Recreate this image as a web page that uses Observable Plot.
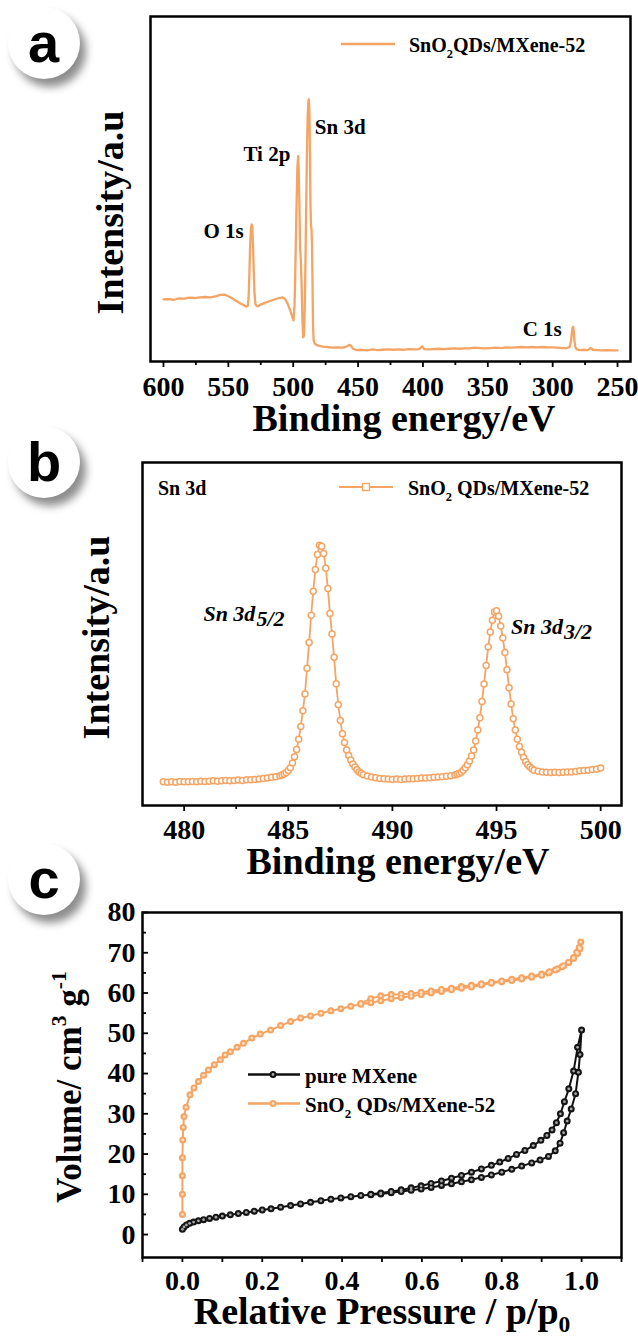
<!DOCTYPE html>
<html><head><meta charset="utf-8">
<script src="https://cdn.jsdelivr.net/npm/d3@7"></script>
<script src="https://cdn.jsdelivr.net/npm/@observablehq/plot@0.6"></script>
<style>
body{margin:0;background:#fff;}
#page{position:relative;width:638px;height:1340px;overflow:hidden;background:#fff;}
#page svg{position:absolute;left:0;max-width:none;background:transparent;}
.badge{position:absolute;width:72px;height:72px;border-radius:50%;background:#fff;box-shadow:6px 8px 9px rgba(0,0,0,0.45);font-family:"Liberation Sans",Arial,sans-serif;font-weight:bold;font-size:56px;display:flex;align-items:center;justify-content:center;line-height:1;color:#000;z-index:2;}
</style></head>
<body><div id="page"></div>
<script>
// ---------- Panel a: XPS survey ----------
const surveyEnergy = [600,596,592,588,584,580,576,572,568,564,560,556,553,550,547,544,541,538,536,535,534.4,533.8,533.2,532.6,532.0,531.5,531.0,530.4,529.8,529.1,528.4,527,525,522,519,515,511,508,506,504,502,500.5,499.8,499.0,498.5,498.0,497.4,496.8,496.2,495.7,495.2,494.7,494.1,493.5,492.9,492.3,491.8,491.3,490.8,490.3,489.8,489.3,488.8,488.3,487.9,487.5,487.1,486.7,486.3,485.9,485.5,485.1,484.7,484.2,483.5,482,480,477,474,470,466,462,459,457,455.5,454,451,447,443,439,435,431,427,423,419,415,411,407,403,400.5,399,396,392,388,384,380,376,372,368,364,360,356,352,348,344,340,336,332,328,324,320,316,312,308,304,300,296,292,289,287,286,285.3,284.7,284.2,283.7,283.2,282.5,281.5,279,276,273,270.5,269,266,262,258,254,250];
const surveyIntensity = [18.0,18.1,17.9,18.3,18.2,18.5,18.4,18.6,18.7,18.6,18.9,19.3,19.4,18.9,18.3,17.6,16.9,16.3,15.9,16.2,18.5,25.0,33.5,38.5,39.7,38.8,34.0,26.0,19.5,16.6,16.2,16.0,16.5,17.0,17.4,17.9,18.4,18.6,18.0,16.5,14.5,12.6,11.9,16.0,23.5,34.0,45.7,56.0,59.5,55.0,45.0,33.0,29.3,22.0,12.0,7.0,7.5,12.0,22.0,36.0,50.0,63.0,71.5,75.5,76.0,72.0,60.0,46.0,39.5,38.3,34.0,22.0,10.0,6.0,5.2,4.8,4.5,4.3,4.2,4.0,4.1,4.0,4.3,4.8,4.6,3.7,3.3,3.4,3.2,3.5,3.3,3.4,3.5,3.4,3.5,3.4,3.6,3.5,3.6,4.4,3.6,3.5,3.6,3.7,3.6,3.7,3.8,3.7,3.8,3.8,4.0,3.9,3.8,3.9,4.0,3.9,4.1,4.0,4.1,4.2,4.1,4.2,4.1,4.2,4.1,4.1,4.0,3.9,3.9,4.2,5.5,8.0,9.8,10.1,8.6,6.0,4.2,3.5,3.3,3.4,3.3,3.9,3.4,3.3,3.2,3.3,3.2,3.2];
const surveyTicks = [600,550,500,450,400,350,300,250];
const surveyMinorTicks = [575,525,475,425,375,325,275];
const surveyLabels = ["O 1s","Ti 2p","Sn 3d","C 1s"];
const surveyLabelEnergy = [538.2,502.2,483.3,293.0];
const surveyLabelIntensity = [35.7,58.0,66.0,7.5];
const surveyLabelAnchor = ["end","end","start","end"];

// ---------- Panel b: Sn 3d high resolution ----------
const snEnergy = [479.0,479.2,479.4,479.6,479.8,480.0,480.2,480.4,480.6,480.8,481.0,481.2,481.4,481.6,481.8,482.0,482.2,482.4,482.6,482.8,483.0,483.2,483.4,483.6,483.8,484.0,484.2,484.4,484.6,484.7,484.8,484.9,485.0,485.1,485.2,485.3,485.4,485.5,485.6,485.7,485.8,485.9,486.0,486.1,486.2,486.3,486.4,486.5,486.6,486.7,486.8,486.9,487.0,487.1,487.2,487.3,487.4,487.5,487.6,487.7,487.8,487.9,488.0,488.1,488.2,488.3,488.4,488.5,488.6,488.8,489.0,489.2,489.4,489.6,489.8,490.0,490.2,490.4,490.6,490.8,491.0,491.2,491.4,491.6,491.8,492.0,492.2,492.4,492.6,492.8,493.0,493.1,493.2,493.3,493.4,493.5,493.6,493.7,493.8,493.9,494.0,494.1,494.2,494.3,494.4,494.5,494.6,494.7,494.8,494.9,495.0,495.1,495.2,495.3,495.4,495.5,495.6,495.7,495.8,495.9,496.0,496.1,496.2,496.3,496.4,496.5,496.6,496.7,496.8,497.0,497.2,497.4,497.6,497.8,498.0,498.2,498.4,498.6,498.8,499.0,499.2,499.4,499.6,499.8,500.0];
const snIntensity = [6.9,6.8,6.9,6.8,7.0,6.9,6.9,7.0,6.9,7.1,7.0,7.1,7.2,7.1,7.2,7.3,7.2,7.3,7.4,7.3,7.5,7.5,7.6,7.7,7.9,8.0,8.2,8.4,8.7,8.9,9.2,9.6,10.2,11.0,12.4,14.2,16.3,19.3,23.0,27.6,32.5,40.0,47.5,55.5,62.5,68.8,73.2,75.9,75.6,73.5,69.2,63.3,56.0,50.0,43.2,35.5,29.4,24.8,20.9,18.4,16.2,14.6,13.3,12.1,11.2,10.4,9.8,9.4,9.0,8.6,8.3,8.1,7.9,7.8,7.7,7.6,7.7,7.6,7.7,7.8,7.8,7.9,8.0,8.0,8.1,8.2,8.3,8.4,8.5,8.7,8.9,9.1,9.3,9.7,10.3,11.0,11.9,13.0,14.4,16.2,18.8,22.0,25.6,30.3,35.4,40.8,46.2,50.6,54.0,56.4,56.8,55.2,52.3,48.8,44.6,39.6,34.3,29.6,25.3,22.0,19.3,17.2,15.5,14.0,12.8,11.9,11.2,10.7,10.3,10.0,9.8,9.7,9.6,9.7,9.6,9.7,9.8,9.8,9.9,10.1,10.2,10.3,10.5,10.6,10.9];
const snTicks = [480,485,490,495,500];
const snMinorTicks = [482.5,487.5,492.5,497.5];
const snPeakMain = ["Sn 3d","Sn 3d"];
const snPeakSub = ["5/2","3/2"];
const snPeakEnergy = [483.42,498.19];
const snPeakIntensity = [53.9,50.0];
const snPeakSubIntensity = [52.2,48.4];

// ---------- Panel c: N2 isotherms ----------
const mxeneAdsP = [0.000,0.004,0.010,0.018,0.028,0.040,0.053,0.068,0.084,0.100,0.120,0.140,0.160,0.180,0.200,0.222,0.246,0.271,0.296,0.321,0.347,0.372,0.397,0.422,0.447,0.472,0.497,0.523,0.548,0.573,0.598,0.623,0.649,0.674,0.699,0.724,0.749,0.774,0.800,0.825,0.850,0.875,0.896,0.917,0.934,0.946,0.955,0.964,0.974,0.985,0.992,0.996,1.000];
const mxeneAdsV = [1.3,1.9,2.4,2.8,3.1,3.4,3.7,4.0,4.3,4.6,4.9,5.2,5.5,5.8,6.1,6.4,6.8,7.2,7.6,8.0,8.4,8.8,9.1,9.4,9.7,9.9,10.1,10.4,10.7,11.0,11.3,11.7,12.2,12.6,13.1,13.6,14.2,14.8,15.5,16.2,17.0,17.8,18.5,19.4,20.8,22.7,25.3,28.2,31.2,35.0,40.3,44.7,50.8];
const mxeneDesP = [0.990,0.980,0.968,0.957,0.947,0.937,0.926,0.913,0.898,0.879,0.858,0.837,0.816,0.795,0.774,0.749,0.724,0.699,0.674,0.649,0.623,0.598,0.573,0.548,0.523,0.497,0.472];
const mxeneDesV = [46.5,40.6,36.2,33.0,30.0,27.8,26.0,24.6,23.4,22.1,20.9,19.9,18.9,18.0,17.2,16.3,15.5,14.7,14.0,13.3,12.7,12.1,11.6,11.1,10.7,10.3,10.0];
const snqdAdsP = [0.000,0.000,0.000,0.000,0.001,0.002,0.004,0.009,0.019,0.029,0.040,0.053,0.065,0.080,0.095,0.107,0.120,0.137,0.153,0.174,0.195,0.221,0.246,0.271,0.296,0.321,0.347,0.372,0.397,0.422,0.447,0.472,0.497,0.523,0.548,0.573,0.598,0.623,0.649,0.674,0.699,0.724,0.749,0.774,0.800,0.825,0.850,0.875,0.900,0.917,0.934,0.951,0.967,0.980,0.988,0.994,0.998];
const snqdAdsV = [5.0,10.0,14.6,19.1,23.5,26.6,29.3,31.6,34.7,36.4,38.0,39.6,40.9,42.2,43.4,44.6,45.4,46.5,47.5,48.8,49.8,50.8,51.9,52.9,53.8,54.3,55.0,55.6,56.1,56.7,57.2,57.6,58.1,58.6,58.9,59.2,59.6,60.0,60.4,60.8,61.2,61.5,62.0,62.4,62.8,63.1,63.5,63.9,64.4,65.0,65.7,66.5,67.6,68.8,70.1,71.3,72.7];
const snqdDesP = [0.996,0.990,0.980,0.968,0.955,0.940,0.920,0.900,0.875,0.850,0.825,0.800,0.774,0.749,0.724,0.699,0.674,0.649,0.623,0.598,0.573,0.548,0.523,0.497,0.472,0.447];
const snqdDesV = [71.0,69.8,68.6,67.6,66.8,66.0,65.3,64.7,64.2,63.8,63.4,63.0,62.7,62.3,61.9,61.6,61.2,60.9,60.5,60.2,59.9,59.7,59.6,59.3,58.6,57.4];
const isoXLabels = [0,0.2,0.4,0.6,0.8,1.0];
const isoXTicks = [-0.1,0,0.1,0.2,0.3,0.4,0.5,0.6,0.7,0.8,0.9,1.0,1.1];
const isoYLabels = [0,10,20,30,40,50,60,70,80];
const isoYMinorTicks = [5,15,25,35,45,55,65,75];

// ---------- helpers ----------
const SERIF = "Liberation Serif";
const ORANGE = "#F5A463";
const page = document.getElementById("page");
const baseStyle = {fontFamily: SERIF, fontWeight: "bold", fontSize: "27px", color: "#000", background: "transparent", overflow: "visible"};
const tickText = {fontSize: 28, fontWeight: "bold", fontFamily: SERIF, fill: "#000"};

function richText(svg, x, y, parts, opts = {}) {
  const {size = 20, anchor = "start", rotate = 0, italic = false, subShift = 0.32} = opts;
  const t = d3.select(svg).append("text")
    .attr("transform", `translate(${x},${y})` + (rotate ? ` rotate(${rotate})` : ""))
    .attr("text-anchor", anchor).attr("font-family", SERIF).attr("font-weight", "bold")
    .attr("font-style", italic ? "italic" : "normal").attr("font-size", size).attr("fill", "#000");
  let shift = 0;
  for (const p of parts) {
    const s = t.append("tspan").text(p.t);
    const target = p.sub ? size * subShift : p.sup ? -size * 0.42 : 0;
    if (target !== shift) { s.attr("dy", target - shift); shift = target; }
    if (p.sub || p.sup) s.attr("font-size", size * 0.62);
  }
  return t;
}
function place(svg, top) { svg.style.top = top + "px"; page.appendChild(svg); }
function badge(letter, left, top) {
  const d = document.createElement("div"); d.className = "badge"; d.textContent = letter;
  d.style.left = left + "px"; d.style.top = top + "px"; page.appendChild(d);
}

// ---------- Panel a ----------
const survey = surveyEnergy.map((e, i) => ({e, v: surveyIntensity[i]}));
const surveyNotes = surveyLabels.map((t, i) => ({t, e: surveyLabelEnergy[i], v: surveyLabelIntensity[i], a: surveyLabelAnchor[i]}));
const chartA = Plot.plot({
  width: 638, height: 440, marginLeft: 150, marginRight: 8, marginTop: 16, marginBottom: 79,
  style: baseStyle,
  x: {domain: [610, 240], label: null},
  y: {domain: [0, 100], axis: null},
  marks: [
    Plot.line(survey, {x: "e", y: "v", stroke: ORANGE, strokeWidth: 2.3}),
    Plot.text(surveyNotes.filter(d => d.a === "end"), {x: "e", y: "v", text: "t", textAnchor: "end", lineAnchor: "bottom", fontSize: 21, fontWeight: "bold", fill: "#000"}),
    Plot.text(surveyNotes.filter(d => d.a === "start"), {x: "e", y: "v", text: "t", textAnchor: "start", lineAnchor: "bottom", fontSize: 21, fontWeight: "bold", fill: "#000"}),
    Plot.axisX({ticks: surveyTicks, tickSize: 6, strokeWidth: 1.8, tickFormat: () => "", label: null}),
    Plot.axisX({ticks: surveyMinorTicks, tickSize: 4, strokeWidth: 1.8, tickFormat: () => "", label: null}),
    Plot.text(surveyTicks, {x: d => d, text: d => String(d), frameAnchor: "bottom", lineAnchor: "top", dy: 15, ...tickText}),
    Plot.frame({stroke: "#000", strokeWidth: 2.5})
  ]
});
place(chartA, 0);
{
  const s = d3.select(chartA);
  s.append("line").attr("x1", 341).attr("x2", 395).attr("y1", 44).attr("y2", 44).attr("stroke", ORANGE).attr("stroke-width", 2.5);
  richText(chartA, 409, 51.5, [{t: "SnO"}, {t: "2", sub: true}, {t: "QDs/MXene-52"}], {size: 20});
  richText(chartA, 404, 431, [{t: "Binding energy/eV"}], {size: 38, anchor: "middle"});
  richText(chartA, 123, 212.5, [{t: "Intensity/a.u"}], {size: 38, anchor: "middle", rotate: -90});
}

// ---------- Panel b ----------
const sn = snEnergy.map((e, i) => ({e, v: snIntensity[i]}));
const snNotes = snPeakMain.map((t, i) => ({t, s: snPeakSub[i], e: snPeakEnergy[i], v: snPeakIntensity[i], vs: snPeakSubIntensity[i]}));
const chartB = Plot.plot({
  width: 638, height: 440, marginLeft: 142, marginRight: 17, marginTop: 22, marginBottom: 75,
  style: baseStyle,
  x: {domain: [478, 501], label: null},
  y: {domain: [0, 100], axis: null},
  marks: [
    Plot.line(sn, {x: "e", y: "v", stroke: ORANGE, strokeWidth: 1.8}),
    Plot.dot(sn, {x: "e", y: "v", r: 3, stroke: ORANGE, strokeWidth: 1.5, fill: "#fff"}),
    Plot.text(snNotes, {x: "e", y: "v", text: "t", textAnchor: "end", lineAnchor: "bottom", fontSize: 22, fontWeight: "bold", fontStyle: "italic", fill: "#000"}),
    Plot.text(snNotes, {x: "e", y: "vs", text: "s", textAnchor: "start", lineAnchor: "bottom", dx: 1, fontSize: 22, fontWeight: "bold", fontStyle: "italic", fill: "#000"}),
    Plot.axisX({ticks: snTicks, tickSize: 6, strokeWidth: 1.8, tickFormat: () => "", label: null}),
    Plot.axisX({ticks: snMinorTicks, tickSize: 4, strokeWidth: 1.8, tickFormat: () => "", label: null}),
    Plot.text(snTicks, {x: d => d, text: d => String(d), frameAnchor: "bottom", lineAnchor: "top", dy: 14, ...tickText}),
    Plot.frame({stroke: "#000", strokeWidth: 2.5})
  ]
});
place(chartB, 440);
{
  const s = d3.select(chartB);
  richText(chartB, 158, 55, [{t: "Sn 3d"}], {size: 20});
  s.append("line").attr("x1", 339).attr("x2", 393).attr("y1", 47).attr("y2", 47).attr("stroke", ORANGE).attr("stroke-width", 2.2);
  s.append("rect").attr("x", 362.5).attr("y", 43.5).attr("width", 7).attr("height", 7).attr("fill", "#fff").attr("stroke", ORANGE).attr("stroke-width", 1.4);
  richText(chartB, 408, 55, [{t: "SnO"}, {t: "2", sub: true}, {t: " QDs/MXene-52"}], {size: 20});
  richText(chartB, 398, 434, [{t: "Binding energy/eV"}], {size: 38, anchor: "middle"});
  richText(chartB, 109, 197.5, [{t: "Intensity/a.u"}], {size: 38, anchor: "middle", rotate: -90});
}

// ---------- Panel c ----------
const mxene = [...mxeneAdsP.map((p, i) => ({p, v: mxeneAdsV[i]})), ...mxeneDesP.map((p, i) => ({p, v: mxeneDesV[i]}))];
const snqd = [...snqdAdsP.map((p, i) => ({p, v: snqdAdsV[i]})), ...snqdDesP.map((p, i) => ({p, v: snqdDesV[i]}))];
const chartC = Plot.plot({
  width: 638, height: 460, marginLeft: 142, marginRight: 17, marginTop: 32, marginBottom: 83,
  style: baseStyle,
  x: {domain: [-0.1, 1.1], label: null},
  y: {domain: [-5.7, 80], label: null},
  marks: [
    Plot.line(mxene, {x: "p", y: "v", stroke: "#111", strokeWidth: 2}),
    Plot.dot(mxene, {x: "p", y: "v", r: 3.5, fill: "#151515"}),
    Plot.dot(mxene, {x: "p", y: "v", r: 1.4, fill: "#a8a8a8"}),
    Plot.line(snqd, {x: "p", y: "v", stroke: ORANGE, strokeWidth: 2}),
    Plot.dot(snqd, {x: "p", y: "v", r: 3.5, fill: ORANGE}),
    Plot.dot(snqd, {x: "p", y: "v", r: 1.4, fill: "#fde1c8"}),
    Plot.axisX({ticks: isoXTicks, tickSize: 5, strokeWidth: 1.8, tickFormat: () => "", label: null}),
    Plot.text(isoXLabels, {x: d => d, text: d => d3.format(".1f")(d), frameAnchor: "bottom", lineAnchor: "top", dy: 13, ...tickText}),
    Plot.axisY({ticks: isoYLabels, tickSize: -6, strokeWidth: 1.8, tickFormat: () => "", label: null}),
    Plot.axisY({ticks: isoYMinorTicks, tickSize: -4, strokeWidth: 1.8, tickFormat: () => "", label: null}),
    Plot.text(isoYLabels, {y: d => d, text: d => String(d), frameAnchor: "left", textAnchor: "end", lineAnchor: "middle", dx: -7, ...tickText}),
    Plot.frame({stroke: "#000", strokeWidth: 2.5})
  ]
});
place(chartC, 880);
{
  const s = d3.select(chartC);
  const leg = [{y: 194.5, col: "#111", hi: "#a8a8a8", parts: [{t: "pure MXene"}]},
               {y: 223.5, col: ORANGE, hi: "#fde1c8", parts: [{t: "SnO"}, {t: "2", sub: true}, {t: " QDs/MXene-52"}]}];
  for (const l of leg) {
    s.append("line").attr("x1", 248).attr("x2", 300).attr("y1", l.y).attr("y2", l.y).attr("stroke", l.col).attr("stroke-width", 2.4);
    s.append("circle").attr("cx", 273).attr("cy", l.y).attr("r", 3.5).attr("fill", l.col);
    s.append("circle").attr("cx", 273).attr("cy", l.y).attr("r", 1.4).attr("fill", l.hi);
    richText(chartC, 305, l.y + 8, l.parts, {size: 21});
  }
  richText(chartC, 382, 444, [{t: "Relative Pressure / p/p"}, {t: "0", sub: true}], {size: 38, anchor: "middle", subShift: 0.22});
  richText(chartC, 81, 207, [{t: "Volume/ cm"}, {t: "3", sup: true}, {t: " g"}, {t: "-1", sup: true}], {size: 35, anchor: "middle", rotate: -90});
}

badge("a", 7.5, 6.5);
badge("b", 8, 426);
badge("c", 8, 843);
</script></body></html>
